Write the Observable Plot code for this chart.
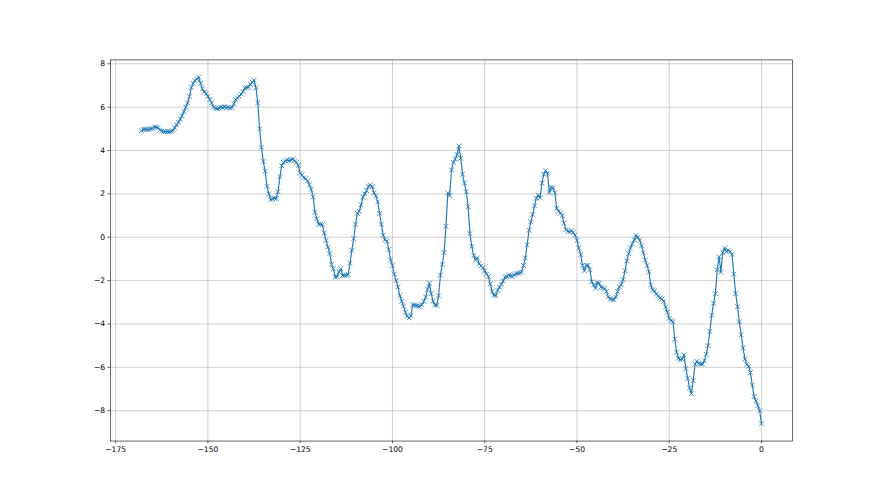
<!DOCTYPE html>
<html><head><meta charset="utf-8">
<script src="https://cdn.jsdelivr.net/npm/d3@7"></script>
<script src="https://cdn.jsdelivr.net/npm/@observablehq/plot@0.6"></script>
<style>body{margin:0;background:#fff}</style>
</head><body><div id="chart"></div>
<script>
// sample positions: -168 to 0, every 0.5
const xSamples = d3.range(-168, 0.25, 0.5);
// values
const yValues = [
  4.92,4.97,4.98,4.98,4.97,5.00,5.02,5.08,5.08,5.05,
  4.95,4.90,4.88,4.87,4.88,4.87,4.88,4.92,5.05,5.18,
  5.30,5.45,5.60,5.80,6.00,6.20,6.50,6.90,7.10,7.22,
  7.30,7.38,7.10,6.85,6.70,6.62,6.50,6.35,6.20,6.00,
  5.95,5.93,5.95,6.00,5.98,6.02,5.97,6.00,5.95,5.98,
  6.15,6.35,6.42,6.50,6.60,6.72,6.88,6.90,6.92,7.05,
  7.15,7.24,6.90,6.20,5.00,4.15,3.50,3.05,2.35,2.00,
  1.72,1.78,1.80,1.78,2.10,2.80,3.30,3.45,3.52,3.56,
  3.53,3.57,3.60,3.52,3.45,3.30,2.95,2.87,2.75,2.70,
  2.60,2.42,2.21,1.85,1.15,0.85,0.60,0.60,0.58,0.20,
  -0.15,-0.45,-0.75,-1.25,-1.45,-1.84,-1.82,-1.60,-1.45,-1.76,
  -1.76,-1.75,-1.72,-1.20,-0.60,-0.06,0.60,1.10,1.20,1.50,
  1.85,2.00,2.15,2.35,2.41,2.33,2.05,1.90,1.63,1.10,
  0.60,0.10,-0.12,-0.18,-0.57,-1.05,-1.30,-1.70,-2.00,-2.30,
  -2.70,-2.95,-3.18,-3.46,-3.65,-3.72,-3.62,-3.12,-3.12,-3.16,
  -3.18,-3.18,-3.12,-2.95,-2.75,-2.40,-2.12,-2.60,-2.95,-3.12,
  -3.15,-2.70,-1.75,-1.25,-0.70,0.50,2.05,1.92,3.10,3.45,
  3.60,3.82,4.21,3.64,2.90,2.50,2.10,1.40,0.17,-0.42,
  -0.85,-1.05,-0.95,-1.22,-1.32,-1.40,-1.55,-1.70,-1.81,-2.15,
  -2.50,-2.68,-2.69,-2.45,-2.30,-2.18,-2.02,-1.84,-1.82,-1.75,
  -1.78,-1.80,-1.73,-1.68,-1.66,-1.65,-1.60,-1.30,-0.95,-0.35,
  0.32,0.71,1.05,1.45,1.80,1.94,1.82,2.50,2.90,3.07,
  2.95,2.05,2.30,2.28,2.05,1.33,1.20,1.12,1.00,0.65,
  0.35,0.28,0.25,0.30,0.22,0.10,-0.15,-0.50,-0.80,-1.30,
  -1.55,-1.30,-1.30,-1.50,-2.05,-2.20,-2.35,-2.10,-2.12,-2.30,
  -2.33,-2.38,-2.50,-2.75,-2.84,-2.87,-2.88,-2.75,-2.50,-2.28,
  -2.19,-1.95,-1.55,-1.10,-0.75,-0.50,-0.30,-0.12,0.09,0.00,
  -0.15,-0.40,-0.72,-1.05,-1.30,-1.60,-2.20,-2.43,-2.48,-2.62,
  -2.72,-2.80,-2.85,-2.95,-3.22,-3.46,-3.74,-3.84,-3.90,-4.70,
  -5.30,-5.58,-5.65,-5.62,-5.42,-6.05,-6.50,-6.95,-7.21,-6.60,
  -5.85,-5.72,-5.82,-5.85,-5.85,-5.70,-5.40,-5.00,-4.35,-3.60,
  -3.05,-2.60,-1.50,-0.90,-1.60,-0.70,-0.50,-0.66,-0.60,-0.67,
  -0.79,-1.70,-2.60,-3.20,-3.90,-4.50,-5.10,-5.62,-5.87,-5.95,
  -6.24,-6.82,-7.35,-7.55,-7.77,-8.00,-8.60
];
const xTicks = [-175, -150, -125, -100, -75, -50, -25, 0];
const yTicks = [-8, -6, -4, -2, 0, 2, 4, 6, 8];

const data = yValues.map((y, i) => ({x: xSamples[i], y}));
const xMin = d3.min(xSamples), xMax = d3.max(xSamples);
const yMin = d3.min(yValues), yMax = d3.max(yValues);
const xPad = (xMax - xMin) * 0.05, yPad = (yMax - yMin) * 0.05;

const chart = Plot.plot({
  width: 880, height: 495,
  marginLeft: 110, marginRight: 88, marginTop: 59.4, marginBottom: 54.45,
  style: {fontFamily: "'DejaVu Sans', sans-serif", fontSize: "7.6px", color: "#000", background: "#fff"},
  x: {domain: [xMin - xPad, xMax + xPad], label: null},
  y: {domain: [yMin - yPad, yMax + yPad], label: null},
  marks: [
    Plot.gridX(xTicks, {stroke: "#b0b0b0", strokeOpacity: 1, strokeWidth: 0.6}),
    Plot.gridY(yTicks, {stroke: "#b0b0b0", strokeOpacity: 1, strokeWidth: 0.6}),
    Plot.line(data, {x: "x", y: "y", stroke: "#1f77b4", strokeWidth: 1.15}),
    Plot.dot(data, {x: "x", y: "y", symbol: "times", r: 2.3, stroke: "#1f77b4", strokeWidth: 0.8}),
    Plot.frame({stroke: "#000", strokeWidth: 0.6}),
    Plot.axisX(xTicks, {tickSize: 2.7, tickPadding: 2.7, label: null, stroke: "#000", strokeWidth: 0.6}),
    Plot.axisY(yTicks, {tickSize: 2.7, tickPadding: 2.7, label: null, stroke: "#000", strokeWidth: 0.6})
  ]
});
document.getElementById("chart").appendChild(chart);
</script>
</body></html>
